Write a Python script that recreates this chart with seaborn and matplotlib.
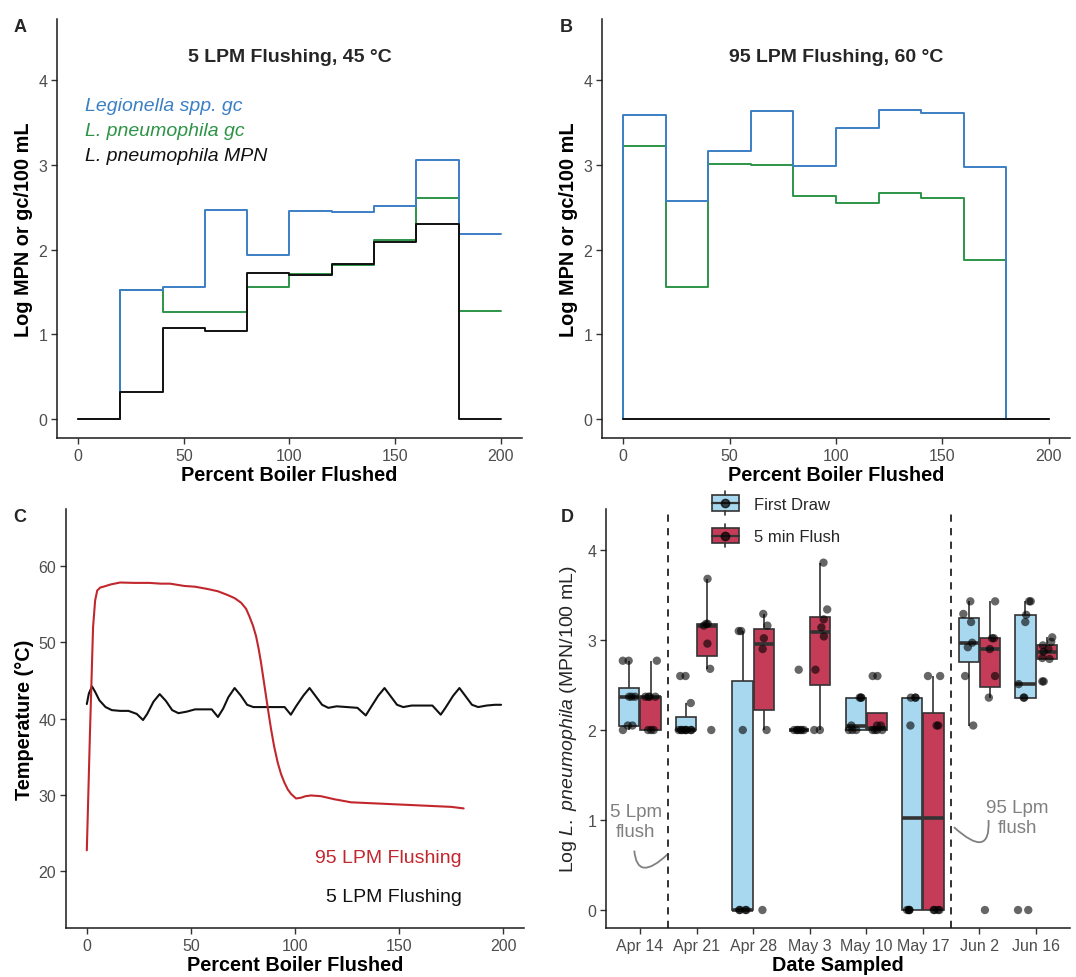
import numpy as np
import pandas as pd
import matplotlib
matplotlib.use("Agg")
import matplotlib.pyplot as plt
import seaborn as sns
from matplotlib.patches import Rectangle, PathPatch
from matplotlib.lines import Line2D
from matplotlib.path import Path
from matplotlib.legend_handler import HandlerBase

# ---------------- data ----------------
# Panel A (5 LPM, 45 C) step data, percent boiler flushed
pct_a = [0, 20, 40, 60, 80, 100, 120, 140, 160, 180, 200]
a_legionella_gc = [0, 1.52, 1.555, 2.47, 1.935, 2.46, 2.45, 2.52, 3.06, 2.19, 2.19]
a_lpneu_gc = [0, 1.52, 1.265, 1.265, 1.555, 1.71, 1.82, 2.12, 2.61, 1.27, 1.27]
a_lpneu_mpn = [0, 0.315, 1.08, 1.035, 1.73, 1.70, 1.83, 2.085, 2.30, 0, 0]

# Panel B (95 LPM, 60 C)
pct_b = [0, 0, 20, 40, 60, 80, 100, 120, 140, 160, 180, 200]
b_legionella_gc = [0, 3.59, 2.57, 3.166, 3.64, 2.99, 3.44, 3.65, 3.62, 2.98, 0, 0]
b_lpneu_gc = [0, 3.23, 1.554, 3.017, 2.997, 2.635, 2.557, 2.667, 2.608, 1.88, 0, 0]
b_lpneu_mpn = [0, 0, 0, 0, 0, 0, 0, 0, 0, 0, 0, 0]

# Panel C temperature traces
pct_95 = [0, 1.5, 3.0, 4.0, 5.0, 6.5, 8, 11.5, 16, 22.8, 30, 35.6, 40, 46.8, 52, 58.0,
          63, 67.7, 71, 74.1, 76.5, 78.1, 79.8, 81.3, 82.5, 83.7, 84.9, 86.1, 87.3,
          88.5, 90, 91.7, 93.3, 94.9, 96.5, 98.1, 100.5, 102.9, 105, 107.7, 112.5,
          118.9, 126.9, 134.9, 142.9, 151, 159, 167, 175, 181]
temp_95 = [22.7, 38, 52, 55.5, 56.8, 57.2, 57.3, 57.6, 57.85, 57.8, 57.8, 57.7, 57.7,
           57.4, 57.3, 57.0, 56.7, 56.2, 55.8, 55.2, 54.4, 53.4, 52.2, 50.8, 49.2, 47.3,
           45.1, 42.9, 40.7, 38.6, 36.3, 34.2, 32.7, 31.6, 30.7, 30.1, 29.5, 29.6, 29.8,
           29.9, 29.8, 29.4, 29.0, 28.9, 28.8, 28.7, 28.6, 28.5, 28.4, 28.2]
pct_5 = [0, 1, 2.5, 4, 6, 9, 12, 16, 20, 24, 27, 29, 32, 35, 38, 41, 44, 48, 52, 56, 60,
         63, 65.5, 68, 71, 74, 77, 80, 85, 90, 95, 98, 100.5, 104, 107, 110, 113, 116,
         120, 125, 130, 134, 136.5, 140, 143, 146, 149, 152, 156, 161, 166, 170, 172.5,
         176, 179, 182, 185, 188, 192, 196, 199]
temp_5 = [41.9, 43.3, 44.2, 43.5, 42.4, 41.5, 41.1, 41.0, 41.0, 40.6, 39.8, 40.6, 42.2,
          43.2, 42.3, 41.1, 40.7, 40.9, 41.2, 41.2, 41.2, 40.2, 41.3, 42.8, 44.0, 43.0,
          41.8, 41.5, 41.5, 41.5, 41.5, 40.5, 41.6, 43.0, 44.0, 42.9, 41.8, 41.4, 41.6,
          41.5, 41.4, 40.4, 41.5, 43.0, 44.0, 42.9, 41.8, 41.5, 41.7, 41.7, 41.7, 40.5,
          41.5, 43.0, 44.0, 42.9, 41.8, 41.5, 41.7, 41.8, 41.8]

# Panel D log L. pneumophila per sampling date
dates = ["Apr 14", "Apr 21", "Apr 28", "May 3", "May 10", "May 17", "Jun 2", "Jun 16"]
groups = ["First Draw", "5 min Flush"]
first_draw = [
    [2.0, 2.05, 2.05, 2.37, 2.37, 2.37, 2.77, 2.77],
    [2.0, 2.0, 2.0, 2.0, 2.0, 2.0, 2.0, 2.0, 2.3, 2.6, 2.6],
    [0, 0, 0, 0, 2.0, 3.1, 3.1],
    [2.0, 2.0, 2.0, 2.0, 2.0, 2.0, 2.67],
    [2.0, 2.0, 2.0, 2.05, 2.36, 2.36, 2.36],
    [0, 0, 0, 0, 2.05, 2.36, 2.36, 2.36],
    [2.05, 2.6, 2.92, 2.97, 3.2, 3.29, 3.43],
    [0, 0, 2.36, 2.36, 2.51, 3.2, 3.28, 3.43, 3.43],
]
flush_5min = [
    [2.0, 2.0, 2.0, 2.37, 2.37, 2.37, 2.37, 2.77],
    [2.0, 2.68, 2.96, 3.16, 3.18, 3.18, 3.68],
    [0, 2.0, 2.9, 3.02, 3.16, 3.29],
    [2.0, 2.0, 2.67, 3.04, 3.14, 3.23, 3.34, 3.86],
    [2.0, 2.0, 2.0, 2.0, 2.05, 2.05, 2.6, 2.6],
    [0, 0, 0, 0, 2.05, 2.05, 2.6, 2.6],
    [0, 2.36, 2.6, 2.9, 3.02, 3.02, 3.43],
    [2.54, 2.54, 2.79, 2.8, 2.87, 2.9, 2.94, 2.98, 3.03],
]

# ---------------- style ----------------
BLUE = "#3B7FC4"
GREEN = "#2D9447"
BLACK = "#111111"
RED = "#C1272D"
FD_COL = "#A8D8F0"
FL_COL = "#C43C58"
EDGE = "#333333"
GRAY_TXT = "#808080"

sns.set_theme(style="ticks")
plt.rcParams["font.family"] = ["Liberation Sans", "DejaVu Sans"]
plt.rcParams["mathtext.fontset"] = "custom"
plt.rcParams["mathtext.rm"] = "Liberation Sans"
plt.rcParams["mathtext.it"] = "Liberation Sans:italic"
plt.rcParams["mathtext.bf"] = "Liberation Sans:bold"

W, H = 1076, 978
fig = plt.figure(figsize=(W / 100, H / 100), dpi=100)


def add_ax(l, r, t, b):
    return fig.add_axes([l / W, 1 - b / H, (r - l) / W, (b - t) / H])


axA = add_ax(57, 522, 20, 439)
axB = add_ax(602, 1070, 20, 439)
axC = add_ax(66, 524, 510, 929)
axD = add_ax(606, 1070, 510, 929)


def style(ax):
    sns.despine(ax=ax)
    for s in ["left", "bottom"]:
        ax.spines[s].set_linewidth(1.1)
        ax.spines[s].set_color("#1a1a1a")
    ax.tick_params(axis="both", labelsize=11.5, labelcolor="#4d4d4d",
                   color="#333333", length=4, width=1.0, pad=3)


LBL = dict(fontsize=14.3, fontweight="bold", color="black")

# ---------------- Panel A ----------------
for y, c in [(a_lpneu_gc, GREEN), (a_legionella_gc, BLUE), (a_lpneu_mpn, BLACK)]:
    sns.lineplot(x=pct_a, y=y, ax=axA, color=c, lw=1.4, drawstyle="steps-post",
                 estimator=None, sort=False)
axA.set_xlim(-10, 210)
axA.set_ylim(-0.225, 4.725)
axA.set_xticks([0, 50, 100, 150, 200])
axA.set_yticks([0, 1, 2, 3, 4])
axA.set_xlabel("Percent Boiler Flushed", labelpad=2, **LBL)
axA.set_ylabel("Log MPN or gc/100 mL", labelpad=4, **LBL)
axA.text(0.5, 1 - 37 / 419, "5 LPM Flushing, 45 °C", transform=axA.transAxes,
         ha="center", va="center", fontsize=14, fontweight="bold")
for txt, c, yy in [("Legionella spp. gc", BLUE, 3.705), ("L. pneumophila gc", GREEN, 3.41),
                   ("L. pneumophila MPN", BLACK, 3.115)]:
    axA.text(3.3, yy, txt, color=c, fontsize=14, style="italic", ha="left", va="center")
style(axA)

# ---------------- Panel B ----------------
for y, c in [(b_lpneu_gc, GREEN), (b_legionella_gc, BLUE), (b_lpneu_mpn, BLACK)]:
    sns.lineplot(x=pct_b, y=y, ax=axB, color=c, lw=1.4, drawstyle="steps-post",
                 estimator=None, sort=False)
axB.set_xlim(-10, 210)
axB.set_ylim(-0.225, 4.725)
axB.set_xticks([0, 50, 100, 150, 200])
axB.set_yticks([0, 1, 2, 3, 4])
axB.set_xlabel("Percent Boiler Flushed", labelpad=2, **LBL)
axB.set_ylabel("Log MPN or gc/100 mL", labelpad=4, **LBL)
axB.text(0.5, 1 - 37 / 419, "95 LPM Flushing, 60 °C", transform=axB.transAxes,
         ha="center", va="center", fontsize=14, fontweight="bold")
style(axB)

# ---------------- Panel C ----------------
sns.lineplot(x=pct_5, y=temp_5, ax=axC, color=BLACK, lw=1.5, estimator=None, sort=False)
sns.lineplot(x=pct_95, y=temp_95, ax=axC, color=RED, lw=1.5, estimator=None, sort=False)
axC.set_xlim(-10, 210)
axC.set_ylim(12.5, 67.5)
axC.set_xticks([0, 50, 100, 150, 200])
axC.set_yticks([20, 30, 40, 50, 60])
axC.set_xlabel("Percent Boiler Flushed", labelpad=2, **LBL)
axC.set_ylabel("Temperature (°C)", labelpad=3, **LBL)
axC.text(180, 21.8, "95 LPM Flushing", color=RED, fontsize=14, ha="right", va="center")
axC.text(180, 16.7, "5 LPM Flushing", color=BLACK, fontsize=14, ha="right", va="center")
style(axC)

# ---------------- Panel D ----------------
rows = []
for d, fd, fl in zip(dates, first_draw, flush_5min):
    for v in fd:
        rows.append((d, groups[0], v))
    for v in fl:
        rows.append((d, groups[1], v))
df = pd.DataFrame(rows, columns=["date", "group", "value"])

sns.boxplot(data=df, x="date", y="value", hue="group", order=dates, hue_order=groups,
            palette=[FD_COL, FL_COL], saturation=1, width=0.75, gap=0.05,
            showfliers=False, showcaps=False, linecolor=EDGE, linewidth=1.2,
            medianprops={"linewidth": 2.6, "color": EDGE}, legend=False, ax=axD)
np.random.seed(7)
sns.stripplot(data=df, x="date", y="value", hue="group", order=dates, hue_order=groups,
              palette=["black", "black"], dodge=True, jitter=0.24, size=6, alpha=0.6,
              linewidth=0, legend=False, ax=axD)
for xv in (0.5, 5.5):
    axD.axvline(xv, color="#222222", lw=1.3, ls=(0, (4, 3.5)))
axD.set_xlim(-0.6, 7.6)
axD.set_ylim(-0.2, 4.456)
axD.set_yticks([0, 1, 2, 3, 4])
axD.set_xlabel("Date Sampled", labelpad=2, **LBL)
axD.set_ylabel(r"Log $\mathit{L.\ pneumophila}$ (MPN/100 mL)", fontsize=14, labelpad=6)

axD.text(-0.07, 0.98, "5 Lpm\nflush", color=GRAY_TXT, fontsize=13.5, ha="center",
         va="center", linespacing=1.25)
axD.text(6.67, 1.025, "95 Lpm\nflush", color=GRAY_TXT, fontsize=13.5, ha="center",
         va="center", linespacing=1.25)
for p0, p1, p2 in [((-0.1, 0.66), (-0.05, 0.3), (0.49, 0.62)),
                   ((5.55, 0.92), (6.2, 0.55), (6.16, 1.0))]:
    path = Path([p0, p1, p2], [Path.MOVETO, Path.CURVE3, Path.CURVE3])
    axD.add_patch(PathPatch(path, fc="none", ec=GRAY_TXT, lw=1.3))
style(axD)


class BoxHandler(HandlerBase):
    def create_artists(self, legend, orig_handle, xdescent, ydescent, width, height,
                       fontsize, trans):
        fc = orig_handle.get_facecolor()
        x0, y0 = -xdescent, -ydescent
        cx, cy = x0 + width / 2, y0 + height / 2
        bh = height * 0.95
        r = Rectangle((x0, cy - bh / 2), width, bh, fc=fc, ec=EDGE, lw=1.2,
                      transform=trans)
        med = Line2D([x0, x0 + width], [cy, cy], color=EDGE, lw=1.6, transform=trans)
        w1 = Line2D([cx, cx], [cy + bh / 2, cy + bh / 2 + 3], color=EDGE, lw=1.2,
                    transform=trans)
        w2 = Line2D([cx, cx], [cy - bh / 2, cy - bh / 2 - 3], color=EDGE, lw=1.2,
                    transform=trans)
        pt = Line2D([cx], [cy], marker="o", ms=6, color="black", alpha=0.7, lw=0,
                    transform=trans)
        return [r, med, w1, w2, pt]


handles = [Rectangle((0, 0), 1, 1, fc=FD_COL), Rectangle((0, 0), 1, 1, fc=FL_COL)]
axD.legend(handles, groups, handler_map={Rectangle: BoxHandler()}, loc="upper left",
           bbox_to_anchor=(712 / W, 1 - 496 / H), bbox_transform=fig.transFigure,
           frameon=False, fontsize=12, handlelength=1.6, handleheight=1.1,
           labelspacing=0.95, handletextpad=0.9, borderpad=0, borderaxespad=0)

# panel letters
for lab, px, py in [("A", 20, 27), ("B", 566, 27), ("C", 20, 517), ("D", 567, 517)]:
    fig.text(px / W, 1 - py / H, lab, fontsize=13, fontweight="bold", ha="center",
             va="center")

fig.savefig("out.png", dpi=100)
